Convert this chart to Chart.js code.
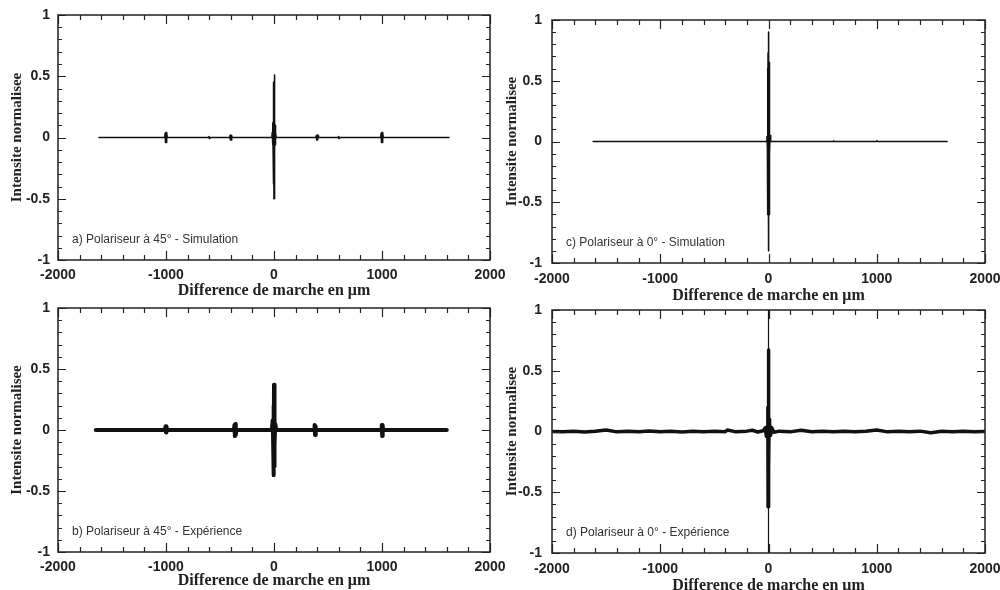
<!DOCTYPE html>
<html>
<head>
<meta charset="utf-8">
<script src="https://cdn.jsdelivr.net/npm/chart.js@4.4.1/dist/chart.umd.min.js"></script>
<style>
  html, body { margin: 0; padding: 0; background: #fff; overflow: hidden; }
  #wrap { position: relative; width: 1000px; height: 590px; }
  .panel { position: absolute; }
</style>
</head>
<body>
<div id="wrap">
  <div class="panel" style="left:0;top:0;width:520px;height:300px"><canvas id="pa" width="520" height="300"></canvas></div>
  <div class="panel" style="left:0;top:300px;width:520px;height:290px"><canvas id="pb" width="520" height="290"></canvas></div>
  <div class="panel" style="left:500px;top:0;width:500px;height:305px"><canvas id="pc" width="500" height="305"></canvas></div>
  <div class="panel" style="left:500px;top:300px;width:500px;height:295px"><canvas id="pd" width="500" height="295"></canvas></div>
</div>
<script>
// tick labels
var xTickLabels = [-2000, -1000, 0, 1000, 2000];
var yTickLabels = [-1, -0.5, 0, 0.5, 1];

// a) polariseur 45 deg - simulation
var aX = [-1620, -1012, -1008, -1004, -1000, -996, -992, -988, -606, -602, -598, -594,
  -412, -408, -404, -400, -396, -392, -388,
  -20, -16, -12, -10, -8, -6, -4, -2, 0, 2, 4, 6, 8, 10, 12, 16, 20,
  388, 392, 396, 400, 404, 408, 412, 594, 598, 602, 606,
  988, 992, 996, 1000, 1004, 1008, 1012, 1620];
var aY = [0, 0, 0.035, -0.04, 0.04, -0.04, 0.035, 0, 0, 0.008, -0.008, 0,
  0, 0.015, -0.02, 0.02, -0.02, 0.015, 0,
  0, 0.04, -0.06, 0.12, -0.1, 0.4, -0.38, 0.45, -0.5, 0.51, -0.4, 0.45, -0.1, 0.1, -0.06, 0.04, 0,
  0, 0.015, -0.02, 0.02, -0.02, 0.015, 0, 0, 0.008, -0.008, 0,
  0, 0.035, -0.04, 0.04, -0.04, 0.035, 0, 0];

// c) polariseur 0 deg - simulation
var cX = [-1620, -20, -14, -10, -8, -6, -4, -2, 0, 2, 4, 6, 8, 10, 14, 20, 596, 600, 604, 996, 1000, 1004, 1650];
var cY = [0, 0, 0.04, -0.05, 0.6, -0.6, 0.73, -0.65, 0.9, -0.9, 0.7, -0.6, 0.65, -0.1, 0.05, 0, 0, 0.006, 0, 0, 0.006, 0, 0];

// b) polariseur 45 deg - experience
var bX = [-1650, -1010, -1004, -1000, -996, -990, -372, -366, -362, -358, -354, -348,
  -20, -12, -8, -4, -2, 0, 2, 4, 8, 12, 20,
  372, 376, 380, 384, 388, 994, 998, 1002, 1006, 1010, 1600];
var bY = [0, 0, 0.03, -0.02, 0.03, 0, 0, 0.04, -0.05, 0.05, -0.04, 0,
  0, 0.08, -0.1, 0.2, -0.37, 0.37, -0.3, 0.13, -0.12, 0.05, 0,
  0, 0.04, -0.04, 0.03, 0, 0, 0.04, -0.05, 0.04, 0, 0];

// d) polariseur 0 deg - experience
var dX = [-2000, -1900, -1800, -1700, -1600, -1500, -1400, -1300, -1200, -1100, -1000, -900,
  -800, -700, -600, -500, -400, -380, -300, -200, -150, -100, -50,
  -30, -20, -14, -10, -6, -4, -2, 0, 2, 4, 6, 10, 14, 20, 30, 50, 100,
  200, 300, 400, 500, 600, 700, 800, 900, 1000, 1100, 1200, 1300, 1400, 1500,
  1600, 1700, 1800, 1900, 2000];
var dY = [0, -0.003, 0.002, -0.004, 0.002, 0.012, -0.003, 0.002, -0.003, 0.004, -0.002, 0.003,
  -0.004, 0.002, -0.003, 0.003, -0.002, 0.012, -0.003, 0.003, 0.01, -0.004, 0.006,
  0.03, -0.04, 0.04, -0.03, 0.2, -0.62, 0.67, -0.55, 0.6, -0.3, 0.1, -0.04, 0.04, -0.03, 0.03, -0.006, 0.003,
  -0.003, 0.01, -0.002, 0.003, -0.003, 0.002, -0.003, 0.003, 0.012, -0.003, 0.002, -0.003, 0.003, -0.01,
  0.002, -0.003, 0.002, -0.002, 0];
var dPeakX = [0, 0];
var dPeakY = [1, -1];

var tickFont = { family: '"Liberation Sans", Arial, sans-serif', size: 14, weight: 'bold' };
var serifFont = '"Liberation Serif", "Times New Roman", serif';

function pts(xs, ys) {
  return xs.map(function(x, i) { return { x: x, y: ys[i] }; });
}

var frame = {
  id: 'frame',
  afterDraw: function(chart, args, opts) {
    var ctx = chart.ctx, a = chart.chartArea, x = chart.scales.x, y = chart.scales.y;
    ctx.save();
    ctx.strokeStyle = '#222';
    ctx.lineWidth = 1.5;
    ctx.strokeRect(a.left, a.top, a.right - a.left, a.bottom - a.top);
    ctx.lineWidth = 1.2;
    ctx.beginPath();
    for (var v = -2000; v <= 2000; v += 200) {
      var px = Math.round(x.getPixelForValue(v)) + 0.5;
      var len = v % 1000 === 0 ? 9 : 5;
      ctx.moveTo(px, a.bottom); ctx.lineTo(px, a.bottom - len);
      ctx.moveTo(px, a.top); ctx.lineTo(px, a.top + len);
    }
    for (var i = -10; i <= 10; i++) {
      var py = Math.round(y.getPixelForValue(i / 10)) + 0.5;
      var l = i % 5 === 0 ? 8 : 4;
      ctx.moveTo(a.left, py); ctx.lineTo(a.left + l, py);
      ctx.moveTo(a.right, py); ctx.lineTo(a.right - l, py);
    }
    ctx.stroke();
    ctx.fillStyle = '#333';
    ctx.font = '12px "Liberation Sans", Arial, sans-serif';
    ctx.textBaseline = 'middle';
    ctx.fillText(opts.text, a.left + 14, a.bottom - 20);
    ctx.restore();
  }
};

function makeChart(id, sets, p) {
  new Chart(document.getElementById(id), {
    type: 'line',
    data: { datasets: sets },
    options: {
      responsive: false,
      animation: false,
      events: [],
      layout: { padding: { left: 0, right: p.right, top: p.top, bottom: 0 } },
      elements: { point: { radius: 0 }, line: { tension: 0 } },
      plugins: { legend: { display: false }, tooltip: { enabled: false }, frame: { text: p.text } },
      scales: {
        x: {
          type: 'linear', min: -2000, max: 2000,
          grid: { display: false, drawTicks: false },
          border: { display: false },
          afterBuildTicks: function(s) { s.ticks = xTickLabels.map(function(v) { return { value: v }; }); },
          afterFit: function(s) { s.height = p.xH; s.paddingLeft = 0; s.paddingRight = 0; },
          ticks: {
            autoSkip: false, maxRotation: 0, padding: p.xPad, color: '#222', font: tickFont,
            callback: function(v) { return String(v); }
          },
          title: {
            display: true, text: 'Difference de marche en \u03bcm', color: '#222',
            font: { family: serifFont, size: 16, weight: 'bold' }, padding: { top: 0, bottom: 0 }
          }
        },
        y: {
          type: 'linear', min: -1, max: 1,
          grid: { display: false, drawTicks: false },
          border: { display: false },
          afterBuildTicks: function(s) { s.ticks = yTickLabels.map(function(v) { return { value: v }; }); },
          afterFit: function(s) { s.width = p.yW; s.paddingTop = 0; s.paddingBottom = 0; },
          ticks: {
            autoSkip: false, padding: p.yPad, color: '#222', font: tickFont,
            callback: function(v) { return String(v); }
          },
          title: {
            display: true, text: 'Intensite normalisee', color: '#222',
            font: { family: serifFont, size: 15, weight: 'bold' }, padding: { top: p.yTitlePad, bottom: 0 }
          }
        }
      }
    },
    plugins: [frame]
  });
}

function line(xs, ys, w) {
  return { data: pts(xs, ys), borderColor: '#111', borderWidth: w, fill: false,
    borderJoinStyle: 'round', borderCapStyle: 'round' };
}

makeChart('pa', [line(aX, aY, 1.6)],
  { text: 'a) Polariseur \u00e0 45\u00b0 - Simulation', top: 15, right: 30, yW: 58, xH: 40, xPad: 7, yPad: 8, yTitlePad: 8 });
makeChart('pb', [line(bX, bY, 4)],
  { text: 'b) Polariseur \u00e0 45\u00b0 - Exp\u00e9rience', top: 8, right: 30, yW: 58, xH: 38, xPad: 7, yPad: 8, yTitlePad: 8 });
makeChart('pc', [line(cX, cY, 1.6)],
  { text: 'c) Polariseur \u00e0 0\u00b0 - Simulation', top: 20, right: 15, yW: 52, xH: 42, xPad: 8, yPad: 10, yTitlePad: 3 });
makeChart('pd', [line(dX, dY, 3.5), line(dPeakX, dPeakY, 1.2)],
  { text: 'd) Polariseur \u00e0 0\u00b0 - Exp\u00e9rience', top: 10, right: 15, yW: 52, xH: 42, xPad: 8, yPad: 10, yTitlePad: 3 });
</script>
</body>
</html>
